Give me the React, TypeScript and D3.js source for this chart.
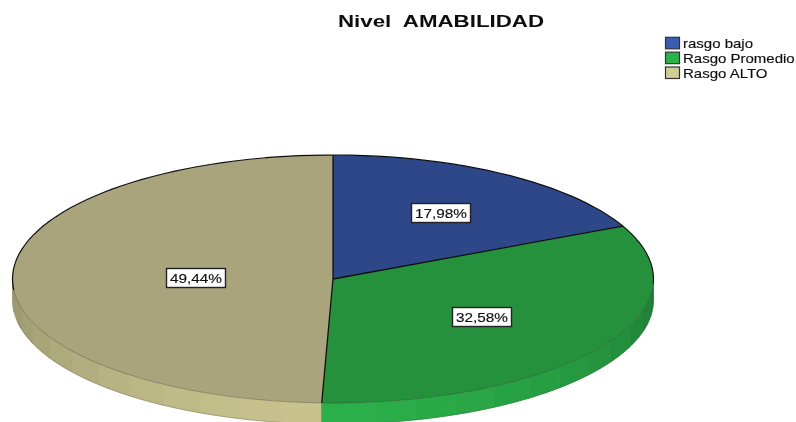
import React from "react";
import * as d3 from "d3";

const categories = ["rasgo bajo", "Rasgo Promedio", "Rasgo ALTO"];
const percents = [17.98, 32.58, 49.44];
const percentLabels = ["17,98%", "32,58%", "49,44%"];
const topColors = ["#2f4789", "#27913d", "#a9a47c"];
const legendColors = ["#3b5cae", "#2cb34b", "#d2cc96"];
const sideBright = ["#3b5cae", "#2cb04a", "#c9c48e"];
const sideDark = ["#2a3f7a", "#1e7a33", "#96946c"];
const labelBoxes = [[441, 213], [482, 317], [196, 278]];

const W = 796, H = 422;
const cx = 333, cy = 279, rx = 320.5, ry = 124, depth = 21;
const font = "'Liberation Sans', Arial, sans-serif";
const bandStep = (7.5 * Math.PI) / 180;
const rad = Math.PI / 180;
const unit = 1000;

const pie = d3.pie<number>().sort(null).startAngle(0).endAngle(2 * Math.PI);
const arcs = pie(percents);
const arcGen = d3.arc<d3.PieArcDatum<number>>().innerRadius(0).outerRadius(unit);
const ex = (a: number) => cx + rx * Math.sin(a);
const ey = (a: number) => cy - ry * Math.cos(a);
const line = d3.line<[number, number]>();

function curve(a0: number, a1: number, dy = 0, n = 80) {
  return d3.range(0, n + 1).map((k) => {
    const a = a0 + ((a1 - a0) * k) / n;
    return [ex(a), ey(a) + dy] as [number, number];
  });
}

interface Band { a0: number; a1: number; color: string }
const bands: Band[] = [];
arcs.forEach((s, i) => {
  const start = Math.max(s.startAngle, Math.PI / 2);
  const end = Math.min(s.endAngle, (3 * Math.PI) / 2);
  if (end <= start) return;
  const ramp = d3.interpolateRgb(sideBright[i], sideDark[i]);
  for (let a = start; a < end; a += bandStep) {
    const b = Math.min(a + bandStep, end);
    const mid = (a + b) / 2;
    bands.push({ a0: a, a1: b, color: ramp(Math.pow(Math.abs(mid - Math.PI) / (Math.PI / 2), 1.4)) });
  }
});

const bandPath = (b: Band) =>
  line([...curve(b.a0, b.a1, 0, 8), ...curve(b.a1, b.a0, depth, 8)]) + "Z";

const legendY = d3.scalePoint<string>().domain(categories).range([43.3, 73]);
const seam = arcs[1].endAngle;

export default function App() {
  return (
    <svg width={W} height={H} viewBox={`0 0 ${W} ${H}`}
      style={{ position: "absolute", left: 0, top: 0, background: "#fff" }}>
      <defs>
        <filter id="soft" x="-2%" y="-2%" width="104%" height="104%">
          <feGaussianBlur stdDeviation="0.35" />
        </filter>
      </defs>
      <g filter="url(#soft)">
        <text x={441} y={27} textAnchor="middle" fontFamily={font} fontWeight="bold" fontSize={16}
          textLength={206} lengthAdjust="spacingAndGlyphs" fill="#111" xmlSpace="preserve">Nivel  AMABILIDAD</text>

        {categories.map((c, i) => (
          <g key={c}>
            <rect x={665.5} y={legendY(c)! - 6} width={14} height={11.5} fill={legendColors[i]} stroke="#333" strokeWidth={1.2} />
            <text transform={`translate(683,${legendY(c)! + 4.5}) scale(1.2,1)`} fontFamily={font} fontSize={12.5}
              fill="#111" stroke="#111" strokeWidth={0.15}>{c}</text>
          </g>
        ))}

        {bands.map((b, i) => (
          <path key={i} d={bandPath(b)} fill={b.color} stroke={b.color} strokeWidth={0.8} />
        ))}
        <path d={line(curve(100 * rad, 260 * rad, depth))!} fill="none" stroke="#333" strokeOpacity={0.35} strokeWidth={0.7} />
        <path d={line(curve(seam, seam, 0, 1).concat(curve(seam, seam, depth, 1)))!} fill="none" stroke="#222" strokeOpacity={0.6} strokeWidth={0.7} />

        <g transform={`translate(${cx},${cy}) scale(${rx / unit},${ry / unit})`}>
          {arcs.map((s, i) => (
            <path key={i} d={arcGen(s)!} fill={topColors[i]} />
          ))}
        </g>
        <path d={line(curve(90 * rad, 270 * rad))!} fill="none" stroke="#222" strokeOpacity={0.45} strokeWidth={0.7} />
        <path d={line(curve(-95 * rad, 92 * rad))!} fill="none" stroke="#111" strokeWidth={1.2} />
        {arcs.map((s, i) => (
          <path key={i} d={line([[cx, cy], [ex(s.startAngle), ey(s.startAngle)]])!} stroke="#111" strokeWidth={1.3} fill="none" />
        ))}

        {arcs.map((s, i) => {
          const [bx, by] = labelBoxes[i];
          return (
            <g key={i}>
              <rect x={bx - 29.5} y={by - 9.5} width={59} height={19} fill="#fff" stroke="#222" strokeWidth={1.4} />
              <text transform={`translate(${bx},${by + 4.5}) scale(1.18,1)`} textAnchor="middle" fontFamily={font} fontSize={13}
                fill="#111" stroke="#111" strokeWidth={0.15}>
                {percentLabels[i]}
              </text>
            </g>
          );
        })}
      </g>
    </svg>
  );
}
